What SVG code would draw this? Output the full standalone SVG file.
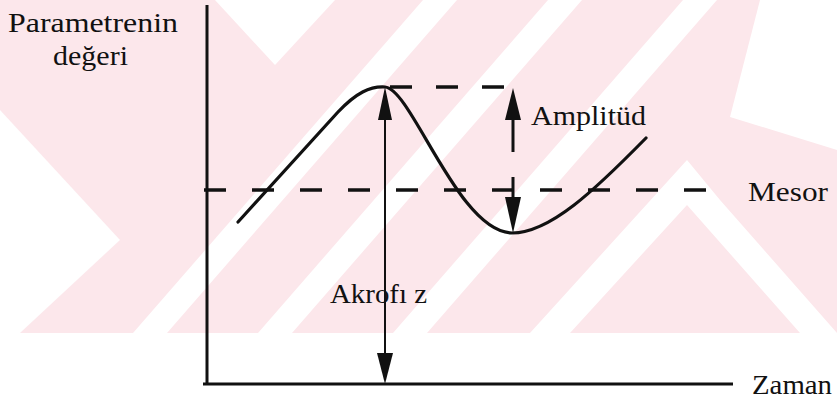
<svg xmlns="http://www.w3.org/2000/svg" width="837" height="401" viewBox="0 0 837 401">
<style>
.t{font-family:"Liberation Serif","Times New Roman",serif;font-size:27px;fill:#111}
.ax{stroke:#111;stroke-width:3;fill:none}
.ds{stroke:#111;stroke-width:3.5;fill:none}
.cv{stroke:#111;stroke-width:3.2;fill:none;stroke-linecap:round}
.wm{fill:#fce7eb}
.wh{fill:#ffffff}
</style>
<defs>
<clipPath id="wmclip"><rect x="0" y="0" width="837" height="333"/></clipPath>
</defs>
<rect width="837" height="401" fill="#ffffff"/>
<g id="watermark" clip-path="url(#wmclip)">
<rect class="wm" x="0" y="0" width="837" height="333"/>
<polygon class="wh" points="423,0 457,0 167,333 133,333"/>
<polygon class="wh" points="548,0 582,0 292,333 258,333"/>
<polygon class="wh" points="683,0 717,0 427,333 393,333"/>
<polygon class="wh" points="215,0 335,0 275,65"/>
<polygon class="wh" points="760,0 837,0 837,150 730,117"/>
<polygon class="wh" points="687,160 720,200 837,333 800,333 687,205 570,333 530,333"/>
<polygon class="wh" points="0,110 120,240 20,333 0,333"/>
</g>
<g id="axes">
<line class="ax" x1="207" y1="5" x2="207" y2="384"/>
<line class="ax" x1="203" y1="384" x2="733" y2="384"/>
</g>
<g id="mesor-line">
<line class="ds" x1="204" y1="190" x2="712" y2="190" stroke-dasharray="22 26"/>
</g>
<g id="curve">
<path class="cv" d="M238,222 L338,112 C356,93 370,86 385,87 C412,89 458,232 512,233 C550,233 595,190 646,138"/>
</g>
<g id="connectors">
<line class="ds" x1="390" y1="87" x2="510" y2="87" stroke-dasharray="22 24"/>
<line stroke="#111" stroke-width="2" x1="385" y1="110" x2="385" y2="360"/>
<polygon fill="#111" points="385,87 378,120 392,120"/>
<polygon fill="#111" points="385,384 377,353 393,353"/>
<line stroke="#111" stroke-width="3" x1="513" y1="115" x2="513" y2="152"/>
<line stroke="#111" stroke-width="3" x1="513" y1="177" x2="513" y2="205"/>
<polygon fill="#111" points="513,88 505,120 521,120"/>
<polygon fill="#111" points="513,233 505,197 521,197"/>
</g>
<g id="labels">
<text class="t" x="8" y="32" textLength="170" lengthAdjust="spacingAndGlyphs">Parametrenin</text>
<text class="t" x="53" y="65" textLength="75" lengthAdjust="spacingAndGlyphs">değeri</text>
<text class="t" x="531" y="125" textLength="115" lengthAdjust="spacingAndGlyphs">Amplitüd</text>
<text class="t" x="748" y="201" textLength="80" lengthAdjust="spacingAndGlyphs">Mesor</text>
<text class="t" x="330" y="303" textLength="97" lengthAdjust="spacingAndGlyphs">Akrofı z</text>
<text class="t" x="752" y="394" textLength="80" lengthAdjust="spacingAndGlyphs">Zaman</text>
</g>
</svg>
